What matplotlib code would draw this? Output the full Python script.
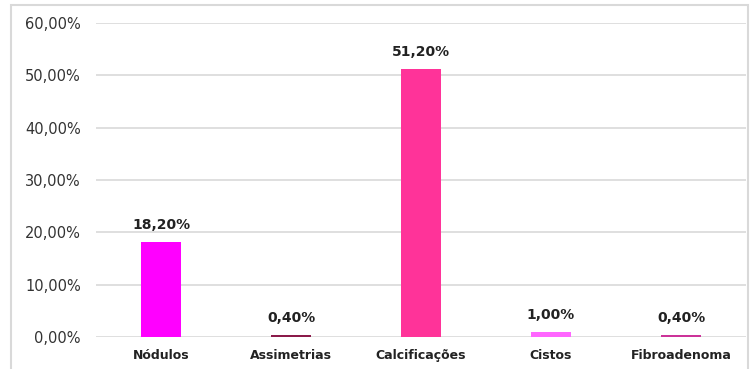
import numpy as np
import matplotlib.pyplot as plt
from matplotlib.patches import Rectangle

categories = ["Nódulos", "Assimetrias", "Calcificações", "Cistos", "Fibroadenoma"]
values = [18.20, 0.40, 51.20, 1.00, 0.40]
colors = ["#FF00FF", "#8B1A4A", "#FF3399", "#FF66FF", "#CC3399"]
yticks = [0, 10, 20, 30, 40, 50, 60]

fig = plt.figure(figsize=(7.53, 3.69), dpi=100)
ax = fig.add_axes([96 / 753, 32 / 369, 650 / 753, 314 / 369])

# outer frame of the chart area (bottom edge runs off the image)
fig.patches.append(Rectangle((11 / 753, -10 / 369), 737 / 753, 374 / 369,
                             transform=fig.transFigure, fill=False,
                             edgecolor="#D9D9D9", linewidth=1.5))

x = np.arange(len(categories))
ax.bar(x, values, width=0.31, color=colors, zorder=3)
for xi, v in zip(x, values):
    ax.text(xi, v + 1.9, f"{v:.2f}%".replace(".", ","), ha="center", va="bottom",
            fontsize=10, fontweight="bold", color="#222222")

ax.set_xlim(-0.5, len(categories) - 0.5)
ax.set_ylim(0, 60)
ax.set_yticks(yticks)
ax.set_yticklabels([f"{t:.2f}%".replace(".", ",") for t in yticks], fontsize=10.5, color="#333333")
ax.set_xticks(x)
ax.set_xticklabels(categories, fontsize=9, fontweight="bold", color="#222222")
for lbl in ax.get_xticklabels():
    lbl.set_verticalalignment("baseline")
ax.grid(axis="y", color="#D9D9D9", linewidth=1.2, zorder=0)
for s in ax.spines.values():
    s.set_visible(False)
ax.tick_params(axis="both", length=0)
ax.tick_params(axis="y", pad=11)
ax.tick_params(axis="x", pad=16)

fig.savefig("out.png", dpi=100)
